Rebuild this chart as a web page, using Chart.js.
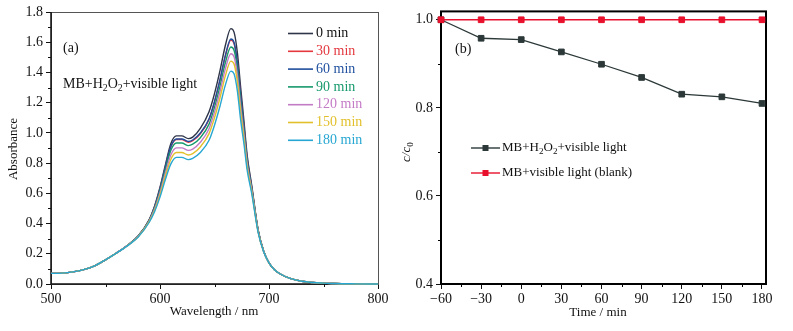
<!DOCTYPE html>
<html>
<head>
<meta charset="utf-8">
<script src="https://cdn.jsdelivr.net/npm/chart.js@4.4.0/dist/chart.umd.min.js"></script>
<style>
body{margin:0;background:#fff;width:793px;height:331px;overflow:hidden;position:relative}
#specChart{position:absolute;left:0;top:0}
#kinChart{position:absolute;left:400px;top:0}
</style>
</head>
<body>
<canvas id="specChart" width="395" height="331"></canvas>
<canvas id="kinChart" width="393" height="331"></canvas>
<script>
// (a) UV-vis spectra of MB during irradiation
const wavelengths = [500,510,520,530,540,550,560,570,580,590,595,600,605,610,615,620,626,630,637,645,650,655,660,665,668,671,674,677,680,684,690,695,700,705,710,720,730,740,750,760,780,800];
const abs0   = [0.070,0.072,0.080,0.095,0.120,0.160,0.205,0.255,0.318,0.425,0.515,0.640,0.790,0.930,0.980,0.980,0.962,0.972,1.030,1.140,1.260,1.410,1.580,1.690,1.665,1.530,1.300,1.080,0.850,0.660,0.360,0.220,0.140,0.095,0.068,0.035,0.018,0.010,0.006,0.003,0.001,0.000];
const abs30  = [0.070,0.072,0.080,0.095,0.120,0.160,0.205,0.255,0.318,0.422,0.509,0.629,0.773,0.907,0.956,0.956,0.938,0.948,0.994,1.089,1.203,1.347,1.509,1.614,1.590,1.461,1.242,1.039,0.823,0.645,0.355,0.219,0.140,0.095,0.068,0.035,0.018,0.010,0.006,0.003,0.001,0.000];
const abs60  = [0.070,0.072,0.080,0.095,0.120,0.160,0.205,0.255,0.318,0.422,0.510,0.631,0.777,0.911,0.960,0.960,0.943,0.953,0.999,1.093,1.208,1.352,1.515,1.621,1.597,1.467,1.247,1.042,0.826,0.646,0.356,0.219,0.140,0.095,0.068,0.035,0.018,0.010,0.006,0.003,0.001,0.000];
const abs90  = [0.070,0.072,0.080,0.095,0.120,0.160,0.205,0.255,0.316,0.419,0.503,0.618,0.758,0.885,0.933,0.933,0.916,0.925,0.968,1.058,1.169,1.308,1.466,1.568,1.545,1.420,1.206,1.014,0.807,0.636,0.352,0.218,0.140,0.095,0.068,0.035,0.018,0.010,0.006,0.003,0.001,0.000];
const abs120 = [0.070,0.072,0.080,0.095,0.120,0.160,0.205,0.254,0.315,0.415,0.494,0.604,0.736,0.855,0.901,0.901,0.884,0.893,0.938,1.028,1.137,1.272,1.425,1.524,1.502,1.380,1.173,0.990,0.792,0.628,0.349,0.217,0.140,0.095,0.068,0.035,0.018,0.010,0.006,0.003,0.001,0.000];
const abs150 = [0.070,0.072,0.080,0.095,0.120,0.160,0.204,0.253,0.313,0.411,0.486,0.590,0.715,0.826,0.870,0.870,0.854,0.863,0.907,0.995,1.100,1.231,1.379,1.475,1.454,1.336,1.135,0.963,0.774,0.618,0.346,0.216,0.140,0.095,0.068,0.035,0.018,0.010,0.006,0.003,0.001,0.000];
const abs180 = [0.070,0.072,0.080,0.095,0.120,0.160,0.204,0.252,0.311,0.407,0.478,0.575,0.693,0.795,0.838,0.838,0.823,0.831,0.870,0.951,1.051,1.176,1.318,1.409,1.389,1.276,1.084,0.928,0.751,0.605,0.342,0.215,0.140,0.095,0.068,0.035,0.018,0.010,0.006,0.003,0.001,0.000];
const specLabels = ['0 min','30 min','60 min','90 min','120 min','150 min','180 min'];
const specColors = ['#2e3548','#e3383e','#1f4f9e','#16996c','#c47bc6','#e2c02c','#27a7d2'];

// (b) c/c0 vs time
const times = [-60,-30,0,30,60,90,120,150,180];
const ratioH2O2  = [1.000,0.958,0.955,0.927,0.899,0.869,0.831,0.825,0.810];
const ratioBlank = [1.000,1.000,1.000,1.000,1.000,1.000,1.000,1.000,1.000];
const timeTicks = [-60,-30,0,30,60,90,120,150,180];
const ratioTicks = [0.4,0.6,0.8,1.0];

const SERIF = "'Liberation Serif', 'Times New Roman', serif";
Chart.defaults.font.family = SERIF;

// text with subscripts: parts = [[text, isSub], ...]
function richText(ctx, parts, x, y, size, color) {
  ctx.save();
  ctx.fillStyle = color;
  ctx.textBaseline = 'middle';
  ctx.textAlign = 'left';
  let cx = x;
  parts.forEach(p => {
    ctx.font = (p[1] ? size * 0.7 : size) + 'px ' + SERIF;
    ctx.fillText(p[0], cx, p[1] ? y + size * 0.3 : y);
    cx += ctx.measureText(p[0]).width;
  });
  ctx.restore();
}

function minorTicks(chart, xVals, yVals, len) {
  const ctx = chart.ctx, a = chart.chartArea;
  const xs = chart.scales.x, ys = chart.scales.y;
  ctx.beginPath();
  xVals.forEach(v => {
    const px = Math.round(xs.getPixelForValue(v)) + 0.5;
    ctx.moveTo(px, a.bottom); ctx.lineTo(px, a.bottom + len);
  });
  yVals.forEach(v => {
    const py = Math.round(ys.getPixelForValue(v)) + 0.5;
    ctx.moveTo(a.left, py); ctx.lineTo(a.left - len, py);
  });
  ctx.stroke();
}

const specDecor = {
  id: 'specDecor',
  beforeDatasetsDraw(chart) {
    const ctx = chart.ctx, a = chart.chartArea;
    ctx.save();
    ctx.strokeStyle = '#555';
    ctx.lineWidth = 1;
    ctx.strokeRect(a.left + 0.5, a.top + 0.5, a.right - a.left, a.bottom - a.top);
    ctx.strokeStyle = '#111';
    ctx.lineWidth = 1.5;
    ctx.beginPath();
    ctx.moveTo(a.left, a.top); ctx.lineTo(a.left, a.bottom); ctx.lineTo(a.right, a.bottom);
    ctx.stroke();
    ctx.lineWidth = 1;
    minorTicks(chart, [550,650,750], [0.1,0.3,0.5,0.7,0.9,1.1,1.3,1.5,1.7], 3);
    ctx.restore();
  },
  afterDraw(chart) {
    const ctx = chart.ctx;
    richText(ctx, [['(a)', 0]], 63, 48, 14, '#111');
    richText(ctx, [['MB+H', 0], ['2', 1], ['O', 0], ['2', 1], ['+visible light', 0]], 63, 84, 14, '#111');
    // legend
    ctx.save();
    specLabels.forEach((lab, i) => {
      const y = 33.5 + i * 17.8;
      ctx.strokeStyle = specColors[i];
      ctx.lineWidth = 1.6;
      ctx.beginPath(); ctx.moveTo(288, y); ctx.lineTo(313, y); ctx.stroke();
      richText(ctx, [[lab, 0]], 316, y, 14, i === 0 ? '#111' : specColors[i]);
    });
    // axis titles
    ctx.fillStyle = '#111';
    ctx.font = '13px ' + SERIF;
    ctx.textAlign = 'center';
    ctx.textBaseline = 'middle';
    ctx.fillText('Wavelength / nm', 214, 312);
    ctx.translate(14, 149);
    ctx.rotate(-Math.PI / 2);
    ctx.fillText('Absorbance', 0, 0);
    ctx.restore();
  }
};

const kinDecor = {
  id: 'kinDecor',
  beforeDatasetsDraw(chart) {
    const ctx = chart.ctx, a = chart.chartArea;
    ctx.save();
    ctx.strokeStyle = '#000';
    ctx.lineWidth = 2;
    ctx.strokeRect(a.left, a.top, a.right - a.left, a.bottom - a.top);
    ctx.lineWidth = 1;
    minorTicks(chart, [-45,-15,15,45,75,105,135,165], [0.5,0.7,0.9], 3);
    ctx.restore();
  },
  afterDraw(chart) {
    const ctx = chart.ctx;
    richText(ctx, [['(b)', 0]], 55, 49, 14, '#111');
    // legend
    const rows = [
      {y: 148, color: '#2c3838', parts: [['MB+H', 0], ['2', 1], ['O', 0], ['2', 1], ['+visible light', 0]]},
      {y: 173, color: '#e8102c', parts: [['MB+visible light (blank)', 0]]}
    ];
    ctx.save();
    rows.forEach(r => {
      ctx.strokeStyle = r.color;
      ctx.fillStyle = r.color;
      ctx.lineWidth = 1.4;
      ctx.beginPath(); ctx.moveTo(71, r.y); ctx.lineTo(100, r.y); ctx.stroke();
      ctx.fillRect(82.5, r.y - 3, 6, 6);
      richText(ctx, r.parts, 102, r.y, 13, '#111');
    });
    ctx.fillStyle = '#111';
    ctx.font = '13px ' + SERIF;
    ctx.textAlign = 'center';
    ctx.textBaseline = 'middle';
    ctx.fillText('Time / min', 198, 313);
    ctx.translate(7, 152);
    ctx.rotate(-Math.PI / 2);
    ctx.textAlign = 'left';
    ctx.font = 'italic 13px ' + SERIF;
    ctx.fillText('c/c', -10, 0);
    const w = ctx.measureText('c/c').width;
    ctx.font = '9px ' + SERIF;
    ctx.fillText('0', -10 + w, 4);
    ctx.restore();
  }
};

const tickFont = {family: SERIF, size: 14};

const specChart = new Chart(document.getElementById('specChart'), {
  type: 'line',
  data: {
    datasets: [abs0, abs30, abs60, abs90, abs120, abs150, abs180].map((vals, i) => ({
      label: specLabels[i],
      data: wavelengths.map((w, j) => ({x: w, y: vals[j]})),
      borderColor: specColors[i],
      borderWidth: 1.4,
      pointRadius: 0,
      cubicInterpolationMode: 'monotone',
      clip: false,
      order: 7 - i
    }))
  },
  options: {
    responsive: false,
    animation: false,
    layout: {padding: {left: 11, right: 17, top: 12, bottom: 0}},
    plugins: {legend: {display: false}, tooltip: {enabled: false}},
    scales: {
      x: {
        type: 'linear', min: 500, max: 800,
        afterFit: s => { s.height = 47; },
        ticks: {stepSize: 100, color: '#111', font: tickFont, padding: 2, maxRotation: 0},
        grid: {drawOnChartArea: false, tickLength: 5, color: '#111'},
        border: {display: false}
      },
      y: {
        type: 'linear', min: 0, max: 1.8,
        afterFit: s => { s.width = 40; },
        ticks: {stepSize: 0.2, color: '#111', font: tickFont, padding: 3, callback: v => v.toFixed(1)},
        grid: {drawOnChartArea: false, tickLength: 5, color: '#111'},
        border: {display: false}
      }
    }
  },
  plugins: [specDecor]
});

const kinChart = new Chart(document.getElementById('kinChart'), {
  type: 'line',
  data: {
    datasets: [
      {
        label: 'MB+H2O2+visible light',
        data: times.map((t, i) => ({x: t, y: ratioH2O2[i]})),
        borderColor: '#2c3838', backgroundColor: '#2c3838',
        borderWidth: 1.3, pointStyle: 'rect', pointRadius: 4, pointBorderWidth: 1,
        clip: false, order: 1
      },
      {
        label: 'MB+visible light (blank)',
        data: times.map((t, i) => ({x: t, y: ratioBlank[i]})),
        borderColor: '#e8102c', backgroundColor: '#e8102c',
        borderWidth: 1.3, pointStyle: 'rect', pointRadius: 4, pointBorderWidth: 1,
        clip: false, order: 0
      }
    ]
  },
  options: {
    responsive: false,
    animation: false,
    layout: {padding: {left: 6, right: 27, top: 11, bottom: 0}},
    plugins: {legend: {display: false}, tooltip: {enabled: false}},
    scales: {
      x: {
        type: 'linear', min: -60, max: 183,
        afterFit: s => { s.height = 47; },
        afterBuildTicks: s => { s.ticks = timeTicks.map(v => ({value: v})); },
        ticks: {color: '#111', font: tickFont, padding: 2, maxRotation: 0, autoSkip: false,
                callback: v => v < 0 ? '\u2212' + Math.abs(v) : String(v)},
        grid: {drawOnChartArea: false, tickLength: 5, color: '#111'},
        border: {display: false}
      },
      y: {
        type: 'linear', min: 0.4, max: 1.019,
        afterFit: s => { s.width = 35; },
        afterBuildTicks: s => { s.ticks = ratioTicks.map(v => ({value: v})); },
        ticks: {color: '#111', font: tickFont, padding: 3, callback: v => v.toFixed(1)},
        grid: {drawOnChartArea: false, tickLength: 5, color: '#111'},
        border: {display: false}
      }
    }
  },
  plugins: [kinDecor]
});
</script>
</body>
</html>
